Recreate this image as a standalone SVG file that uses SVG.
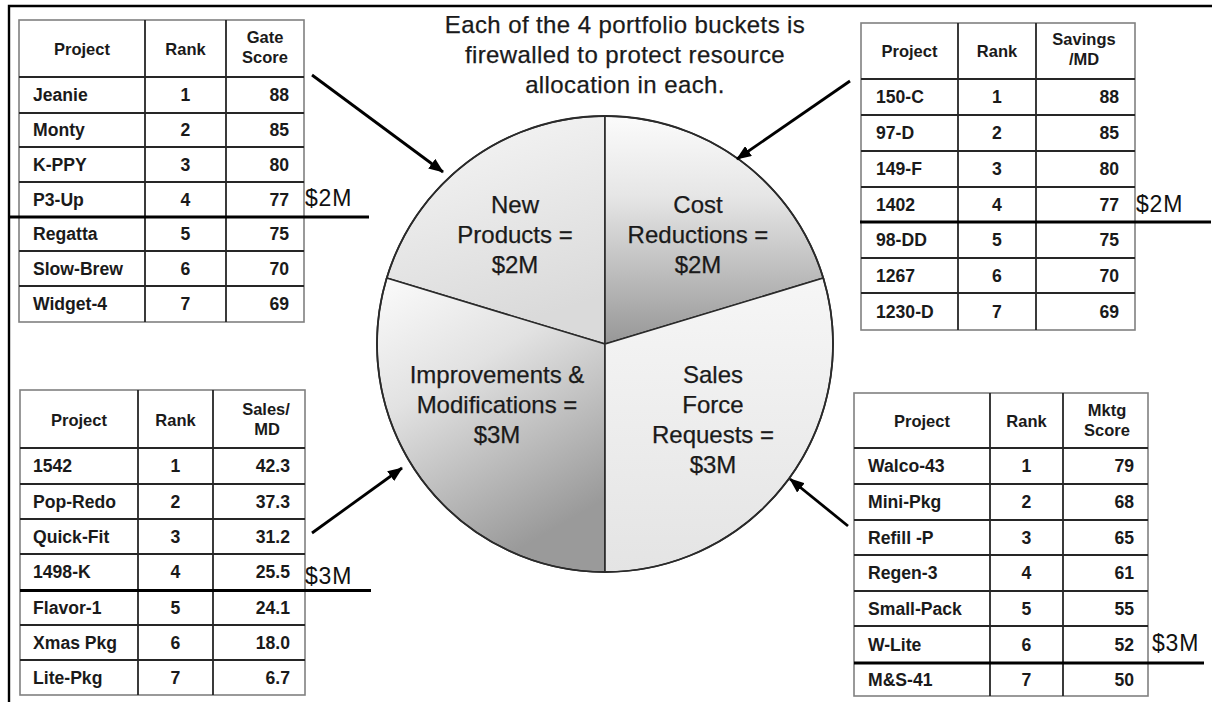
<svg xmlns="http://www.w3.org/2000/svg" width="1212" height="702" viewBox="0 0 1212 702">
<style>
.t{font-family:"Liberation Sans",Arial,sans-serif;font-weight:bold;font-size:17.6px;fill:#1a1a1a}
.h{font-size:16.5px}
.c{text-anchor:middle}
.r{text-anchor:end}
.outer{fill:#fff;stroke:#808080;stroke-width:1.6}
.grid{stroke:#262626;stroke-width:1.8;fill:none}
.cut{stroke:#000;stroke-width:3.2}
.amt{font-family:"Liberation Sans",Arial,sans-serif;font-size:23px;letter-spacing:0.8px;fill:#111}
.pie{font-family:"Liberation Sans",Arial,sans-serif;font-size:24px;fill:#1a1a1a;stroke:#1a1a1a;stroke-width:0.25;text-anchor:middle}
.seg{stroke:#2a2a2a;stroke-width:1.6}
.arr{stroke:#000;stroke-width:2.8;fill:none;marker-end:url(#ah)}
.frame{stroke:#000;stroke-width:2.4;fill:none}
</style>
<defs>
<marker id="ah" markerUnits="userSpaceOnUse" markerWidth="16" markerHeight="12" refX="14" refY="6" orient="auto">
<path d="M0,0 L15,6 L0,12 Z" fill="#000"/>
</marker>
<linearGradient id="gNew" x1="0" y1="0" x2="0.3" y2="1">
<stop offset="0" stop-color="#f7f7f7"/><stop offset="1" stop-color="#dadada"/>
</linearGradient>
<linearGradient id="gCost" x1="0" y1="0" x2="0" y2="1">
<stop offset="0" stop-color="#fbfbfb"/><stop offset="0.35" stop-color="#e6e6e6"/><stop offset="1" stop-color="#979797"/>
</linearGradient>
<linearGradient id="gImp" x1="0" y1="0" x2="0.45" y2="1">
<stop offset="0" stop-color="#fbfbfb"/><stop offset="0.4" stop-color="#e2e2e2"/><stop offset="1" stop-color="#9a9a9a"/>
</linearGradient>
<linearGradient id="gSales" x1="0" y1="0" x2="0" y2="1">
<stop offset="0" stop-color="#f6f6f6"/><stop offset="1" stop-color="#e4e4e4"/>
</linearGradient>
</defs>
<rect width="1212" height="702" fill="#fff"/>
<path class="frame" d="M9,702 L9,6 L1212,6"/>

<g id="title">
<text class="pie" x="625" y="33" letter-spacing="0.4">Each of the 4 portfolio buckets is</text>
<text class="pie" x="625" y="63" letter-spacing="0.4">firewalled to protect resource</text>
<text class="pie" x="625" y="93" letter-spacing="0.4">allocation in each.</text>
</g>

<g id="pie">
<path class="seg" fill="url(#gNew)" d="M605,344 L605,116 A228,228 0 0 0 386.7,278.1 Z"/>
<path class="seg" fill="url(#gCost)" d="M605,344 L605,116 A228,228 0 0 1 823.3,278.1 Z"/>
<path class="seg" fill="url(#gImp)" d="M605,344 L386.7,278.1 A228,228 0 0 0 605,572 Z"/>
<path class="seg" fill="url(#gSales)" d="M605,344 L605,572 A228,228 0 0 0 823.3,278.1 Z"/>
<circle cx="605" cy="344" r="228" fill="none" stroke="#2a2a2a" stroke-width="1.8"/>
</g>
<g id="seg-new">
<text class="pie" x="515" y="213">New</text>
<text class="pie" x="515" y="243">Products =</text>
<text class="pie" x="515" y="273">$2M</text>
</g>
<g id="seg-cost">
<text class="pie" x="698" y="213">Cost</text>
<text class="pie" x="698" y="243">Reductions =</text>
<text class="pie" x="698" y="273">$2M</text>
</g>
<g id="seg-imp">
<text class="pie" x="497" y="383">Improvements &amp;</text>
<text class="pie" x="497" y="413">Modifications =</text>
<text class="pie" x="497" y="443">$3M</text>
</g>
<g id="seg-sales">
<text class="pie" x="713" y="383">Sales</text>
<text class="pie" x="713" y="413">Force</text>
<text class="pie" x="713" y="443">Requests =</text>
<text class="pie" x="713" y="473">$3M</text>
</g>

<g id="connectors">
<line class="arr" x1="312" y1="75" x2="443" y2="172"/>
<line class="arr" x1="850" y1="81" x2="737" y2="159"/>
<line class="arr" x1="312" y1="533" x2="402" y2="468"/>
<line class="arr" x1="848" y1="526" x2="790" y2="479"/>
</g>

<g id="table-new-products">
<rect class="outer" x="19" y="20" width="285" height="302"/>
<path class="grid" d="M145,20V322 M226,20V322 M19,77H304 M19,113H304 M19,147H304 M19,182H304 M19,251H304 M19,286H304"/>
<line class="cut" x1="8" y1="217" x2="369" y2="217"/>
<text class="t h c" x="82" y="55">Project</text>
<text class="t h c" x="185.5" y="55">Rank</text>
<text class="t h c" x="265" y="43">Gate</text>
<text class="t h c" x="265" y="63">Score</text>
<text class="t" x="33" y="101">Jeanie</text><text class="t c" x="185.5" y="101">1</text><text class="t r" x="289" y="101">88</text>
<text class="t" x="33" y="136">Monty</text><text class="t c" x="185.5" y="136">2</text><text class="t r" x="289" y="136">85</text>
<text class="t" x="33" y="170.5">K-PPY</text><text class="t c" x="185.5" y="170.5">3</text><text class="t r" x="289" y="170.5">80</text>
<text class="t" x="33" y="205.5">P3-Up</text><text class="t c" x="185.5" y="205.5">4</text><text class="t r" x="289" y="205.5">77</text>
<text class="t" x="33" y="240">Regatta</text><text class="t c" x="185.5" y="240">5</text><text class="t r" x="289" y="240">75</text>
<text class="t" x="33" y="274.5">Slow-Brew</text><text class="t c" x="185.5" y="274.5">6</text><text class="t r" x="289" y="274.5">70</text>
<text class="t" x="33" y="310">Widget-4</text><text class="t c" x="185.5" y="310">7</text><text class="t r" x="289" y="310">69</text>
<text class="amt" x="305" y="206">$2M</text>
</g>

<g id="table-cost-reductions">
<rect class="outer" x="861" y="23" width="274" height="307"/>
<path class="grid" d="M958,23V330 M1036,23V330 M861,79H1135 M861,115H1135 M861,151H1135 M861,187H1135 M861,258H1135 M861,293H1135"/>
<line class="cut" x1="860" y1="222" x2="1211" y2="222"/>
<text class="t h c" x="909.5" y="57">Project</text>
<text class="t h c" x="997" y="57">Rank</text>
<text class="t h c" x="1084" y="45">Savings</text>
<text class="t h c" x="1084" y="65">/MD</text>
<text class="t" x="876" y="103">150-C</text><text class="t c" x="997" y="103">1</text><text class="t r" x="1119" y="103">88</text>
<text class="t" x="876" y="139">97-D</text><text class="t c" x="997" y="139">2</text><text class="t r" x="1119" y="139">85</text>
<text class="t" x="876" y="175">149-F</text><text class="t c" x="997" y="175">3</text><text class="t r" x="1119" y="175">80</text>
<text class="t" x="876" y="210.5">1402</text><text class="t c" x="997" y="210.5">4</text><text class="t r" x="1119" y="210.5">77</text>
<text class="t" x="876" y="246">98-DD</text><text class="t c" x="997" y="246">5</text><text class="t r" x="1119" y="246">75</text>
<text class="t" x="876" y="281.5">1267</text><text class="t c" x="997" y="281.5">6</text><text class="t r" x="1119" y="281.5">70</text>
<text class="t" x="876" y="317.5">1230-D</text><text class="t c" x="997" y="317.5">7</text><text class="t r" x="1119" y="317.5">69</text>
<text class="amt" x="1136" y="212">$2M</text>
</g>

<g id="table-improvements">
<rect class="outer" x="20" y="390" width="285" height="305"/>
<path class="grid" d="M138,390V695 M213,390V695 M20,448H305 M20,484H305 M20,519H305 M20,554H305 M20,625H305 M20,660H305"/>
<line class="cut" x1="20" y1="590.5" x2="371" y2="590.5"/>
<text class="t h c" x="79" y="426">Project</text>
<text class="t h c" x="175.5" y="426">Rank</text>
<text class="t h c" x="266" y="415">Sales/</text>
<text class="t h c" x="267" y="435">MD</text>
<text class="t" x="33" y="472">1542</text><text class="t c" x="175.5" y="472">1</text><text class="t r" x="290" y="472">42.3</text>
<text class="t" x="33" y="507.5">Pop-Redo</text><text class="t c" x="175.5" y="507.5">2</text><text class="t r" x="290" y="507.5">37.3</text>
<text class="t" x="33" y="542.5">Quick-Fit</text><text class="t c" x="175.5" y="542.5">3</text><text class="t r" x="290" y="542.5">31.2</text>
<text class="t" x="33" y="578">1498-K</text><text class="t c" x="175.5" y="578">4</text><text class="t r" x="290" y="578">25.5</text>
<text class="t" x="33" y="613.5">Flavor-1</text><text class="t c" x="175.5" y="613.5">5</text><text class="t r" x="290" y="613.5">24.1</text>
<text class="t" x="33" y="648.5">Xmas Pkg</text><text class="t c" x="175.5" y="648.5">6</text><text class="t r" x="290" y="648.5">18.0</text>
<text class="t" x="33" y="683.5">Lite-Pkg</text><text class="t c" x="175.5" y="683.5">7</text><text class="t r" x="290" y="683.5">6.7</text>
<text class="amt" x="305" y="584">$3M</text>
</g>

<g id="table-sales-force">
<rect class="outer" x="854" y="393" width="294" height="303"/>
<path class="grid" d="M990,393V696 M1063,393V696 M854,448H1148 M854,484H1148 M854,520H1148 M854,555H1148 M854,591H1148 M854,626H1148"/>
<line class="cut" x1="854" y1="663" x2="1204" y2="663"/>
<text class="t h c" x="922" y="427">Project</text>
<text class="t h c" x="1026.5" y="427">Rank</text>
<text class="t h c" x="1107" y="416">Mktg</text>
<text class="t h c" x="1107" y="436">Score</text>
<text class="t" x="868" y="472">Walco-43</text><text class="t c" x="1026.5" y="472">1</text><text class="t r" x="1134" y="472">79</text>
<text class="t" x="868" y="508">Mini-Pkg</text><text class="t c" x="1026.5" y="508">2</text><text class="t r" x="1134" y="508">68</text>
<text class="t" x="868" y="543.5">Refill -P</text><text class="t c" x="1026.5" y="543.5">3</text><text class="t r" x="1134" y="543.5">65</text>
<text class="t" x="868" y="579">Regen-3</text><text class="t c" x="1026.5" y="579">4</text><text class="t r" x="1134" y="579">61</text>
<text class="t" x="868" y="614.5">Small-Pack</text><text class="t c" x="1026.5" y="614.5">5</text><text class="t r" x="1134" y="614.5">55</text>
<text class="t" x="868" y="650.5">W-Lite</text><text class="t c" x="1026.5" y="650.5">6</text><text class="t r" x="1134" y="650.5">52</text>
<text class="t" x="868" y="685.5">M&amp;S-41</text><text class="t c" x="1026.5" y="685.5">7</text><text class="t r" x="1134" y="685.5">50</text>
<text class="amt" x="1152" y="651">$3M</text>
</g>
</svg>
